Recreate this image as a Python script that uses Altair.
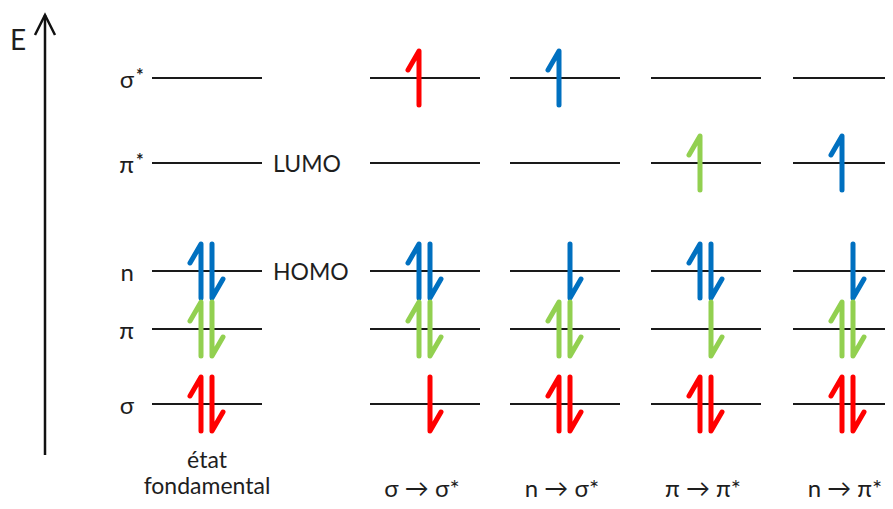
import altair as alt
import pandas as pd

# ---------------- data ----------------
level_names = ["σ*", "π*", "n", "π", "σ"]
level_energy = [431, 346, 238, 180, 105]
level_letter = ["σ", "π", "n", "π", "σ"]
level_star = [True, True, False, False, False]

column_names = ["état fondamental", "σ → σ*", "n → σ*", "π → π*", "n → π*"]

# electrons: (column index, level, spin, orbital of origin)
electrons = [
    (0, "n", "up", "n"), (0, "n", "down", "n"), (0, "π", "up", "π"), (0, "π", "down", "π"),
    (0, "σ", "up", "σ"), (0, "σ", "down", "σ"),
    (1, "σ*", "up", "σ"), (1, "n", "up", "n"), (1, "n", "down", "n"), (1, "π", "up", "π"),
    (1, "π", "down", "π"), (1, "σ", "down", "σ"),
    (2, "σ*", "up", "n"), (2, "n", "down", "n"), (2, "π", "up", "π"), (2, "π", "down", "π"),
    (2, "σ", "up", "σ"), (2, "σ", "down", "σ"),
    (3, "π*", "up", "π"), (3, "n", "up", "n"), (3, "n", "down", "n"), (3, "π", "down", "π"),
    (3, "σ", "up", "σ"), (3, "σ", "down", "σ"),
    (4, "π*", "up", "n"), (4, "n", "down", "n"), (4, "π", "up", "π"), (4, "π", "down", "π"),
    (4, "σ", "up", "σ"), (4, "σ", "down", "σ"),
]
frontier = {"π*": "LUMO", "n": "HOMO"}

orbital_domain = ["σ", "π", "n"]
orbital_colors = ["#ff0000", "#92d050", "#0070c0"]

# ---------------- layout (drawing geometry) ----------------
W, H = 877, 493
col_left = [152, 370, 510, 651, 793]
line_len = 110
half = 27          # half length of an electron arrow
hook_dx, hook_dy = 11, 19
E_of = dict(zip(level_names, level_energy))

xs = alt.Scale(domain=[8, 8 + W], nice=False, zero=False)
ys = alt.Scale(domain=[8, 8 + H], nice=False, zero=False)

def X(field):
    return alt.X(field, type="quantitative", scale=xs, axis=None)

def Y(field):
    return alt.Y(field, type="quantitative", scale=ys, axis=None)

# level lines
lev_rows = []
for ci, left in enumerate(col_left):
    for name, e in zip(level_names, level_energy):
        lev_rows.append({"x": left, "x2": left + line_len, "y": e})
levels_df = pd.DataFrame(lev_rows)

# electron arrows (harpoons)
el_rows = []
for k, (ci, lev, spin, orig) in enumerate(electrons):
    c = col_left[ci] + line_len / 2
    e = E_of[lev]
    if spin == "up":
        x0 = c - 6
        pts = [(x0, e - half), (x0, e + half), (x0 - hook_dx, e + half - hook_dy)]
    else:
        x0 = c + 5
        pts = [(x0, e + half), (x0, e - half), (x0 + hook_dx, e - half + hook_dy)]
    for j, (px, py) in enumerate(pts):
        el_rows.append({"id": k, "o": j, "x": px, "y": py, "orb": orig})
el_df = pd.DataFrame(el_rows)

# level labels
lab_df = pd.DataFrame({"x": 134, "y": level_energy, "t": level_letter})
star_df = pd.DataFrame({"x": [136 for s in level_star if s],
                        "y": [e for e, s in zip(level_energy, level_star) if s],
                        "t": ["*" for s in level_star if s]})
fr_df = pd.DataFrame({"x": 273, "y": [E_of[k] for k in frontier], "t": list(frontier.values())})

# column labels
col_centers = [l + line_len / 2 for l in col_left]
ground_df = pd.DataFrame({"x": [col_centers[0], col_centers[0]], "y": [41, 15],
                          "t": column_names[0].split(" ")})
trans_df = pd.DataFrame({"x": [c - 3 for c in col_centers[1:]], "y": 12, "t": column_names[1:]})

# energy axis
axis_df = pd.DataFrame({"x": [45], "y": [54], "y2": [494]})
head_df = pd.DataFrame({"x": [35, 45, 55], "y": [474, 494, 474], "o": [0, 1, 2]})
e_df = pd.DataFrame({"x": [18], "y": [459], "t": ["E"]})

FONT = "Lato"
TXT = "#1e1e1e"

levels = alt.Chart(levels_df).mark_rule(color="#1a1a1a", strokeWidth=2).encode(
    x=X("x"), x2="x2", y=Y("y"))

arrows = alt.Chart(el_df).mark_line(strokeWidth=5, strokeCap="round", strokeJoin="round").encode(
    x=X("x"), y=Y("y"), detail="id:N", order="o:Q",
    color=alt.Color("orb:N", scale=alt.Scale(domain=orbital_domain, range=orbital_colors), legend=None))

labels = alt.Chart(lab_df).mark_text(align="right", baseline="alphabetic", dy=10,
                                     font=FONT, fontSize=24, color=TXT).encode(
    x=X("x"), y=Y("y"), text="t:N")
stars = alt.Chart(star_df).mark_text(align="left", baseline="alphabetic", dy=4,
                                     font=FONT, fontSize=18, fontWeight="bold", color=TXT).encode(
    x=X("x"), y=Y("y"), text="t:N")
front = alt.Chart(fr_df).mark_text(align="left", baseline="alphabetic", dy=9,
                                   font=FONT, fontSize=23, color=TXT).encode(
    x=X("x"), y=Y("y"), text="t:N")
ground = alt.Chart(ground_df).mark_text(align="center", baseline="alphabetic",
                                        font=FONT, fontSize=23, color=TXT).encode(
    x=X("x"), y=Y("y"), text="t:N")
trans = alt.Chart(trans_df).mark_text(align="center", baseline="alphabetic",
                                      font=FONT, fontSize=24, color=TXT).encode(
    x=X("x"), y=Y("y"), text="t:N")

axis_line = alt.Chart(axis_df).mark_rule(color="#111", strokeWidth=2.5).encode(
    x=X("x"), y=Y("y"), y2="y2")
axis_head = alt.Chart(head_df).mark_line(color="#111", strokeWidth=2.5).encode(
    x=X("x"), y=Y("y"), order="o:Q")
e_lab = alt.Chart(e_df).mark_text(align="center", baseline="alphabetic",
                                  font=FONT, fontSize=28, color=TXT).encode(
    x=X("x"), y=Y("y"), text="t:N")

chart = alt.layer(levels, arrows, labels, stars, front, ground, trans,
                  axis_line, axis_head, e_lab).properties(
    width=W, height=H, padding=0, autosize=alt.AutoSizeParams(type="none"),
    background="white"
).configure_view(stroke=None)

chart.save("out.html", embed_options={"renderer": "svg", "actions": False})
